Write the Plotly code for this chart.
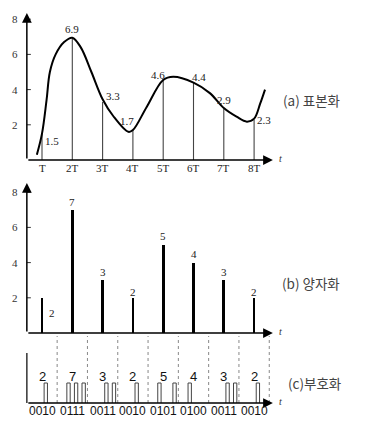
import plotly.graph_objects as go

# ---------------- data ----------------
sample_t = [1, 2, 3, 4, 5, 6, 7, 8]
sample_v = [1.5, 6.9, 3.3, 1.7, 4.6, 4.4, 2.9, 2.3]
curve_t = [0.83, 1.0, 1.15, 1.26, 1.45, 1.73, 2.0, 2.28, 2.63, 3.0, 3.35, 3.85, 4.0,
           4.45, 5.0, 5.33, 6.0, 6.54, 7.0, 7.42, 7.76, 8.0, 8.2, 8.36]
curve_v = [0.3, 1.5, 3.4, 5.0, 6.0, 6.7, 6.95, 6.4, 5.0, 3.45, 2.5, 1.6, 1.7,
           3.0, 4.55, 4.73, 4.4, 3.8, 2.95, 2.46, 2.18, 2.35, 3.2, 4.0]
quant_v = [2, 7, 3, 2, 5, 4, 3, 2]
codes = ["0010", "0111", "0011", "0010", "0101", "0100", "0011", "0010"]
x_ticks = [1, 2, 3, 4, 5, 6, 7, 8]
x_tick_labels = ["T", "2T", "3T", "4T", "5T", "6T", "7T", "8T"]
y_ticks = [2, 4, 6, 8]
panel_labels = ["(a) 표본화", "(b) 양자화", "(c)부호화"]

# ---------------- layout geometry (page pixels) ----------------
OFF = 8                      # page body margin
W, H = 375, 421              # figure size
X0PX, XUNIT = 11.7, 30.3     # page pixel of t=0, pixels per T


def xr():
    return [-(X0PX - OFF) / XUNIT, (W + OFF - X0PX) / XUNIT]


def yaxis_cfg(zero_px, unit, top_px, bot_px):
    top, bot = top_px - OFF, bot_px - OFF
    z = zero_px - OFF
    return dict(domain=[max(0.0, 1 - bot / H), min(1.0, 1 - top / H)],
                range=[(z - bot) / unit, (z - top) / unit],
                visible=False, anchor="x", fixedrange=True)


A0, AU = 160, 17.6
B0, BU = 333, 17.6
C0, CU = 403, 20.0

SERIF = "Liberation Serif"
SANS = "Liberation Sans"
KR = "Noto Sans CJK KR"
AX = "#333333"

fig = go.Figure()

# ----- panel (a): stems + curve -----
sx, sy = [], []
for t, v in zip(sample_t, sample_v):
    sx += [t, t, None]
    sy += [0, v, None]
fig.add_trace(go.Scatter(x=sx, y=sy, mode="lines", yaxis="y",
                         line=dict(color="#444444", width=1.1), hoverinfo="skip"))
fig.add_trace(go.Scatter(x=curve_t, y=curve_v, mode="lines", yaxis="y",
                         line=dict(color="black", width=2, shape="spline"),
                         hoverinfo="skip"))

# ----- panel (b): bars -----
fig.add_trace(go.Bar(x=sample_t, y=quant_v, yaxis="y2", width=0.09,
                     marker=dict(color="black", line=dict(width=0)),
                     hoverinfo="skip"))

# ----- panel (c): pulses -----
px_, py_ = [], []
bw = 0.25
pw = 0.11
for t, c in zip(sample_t, codes):
    for i, b in enumerate(c):
        if b == "1":
            xc = t - 0.5 + (i + 0.5) * bw
            px_ += [xc - pw / 2, xc - pw / 2, xc + pw / 2, xc + pw / 2, None]
            py_ += [0, 1, 1, 0, None]
fig.add_trace(go.Scatter(x=px_, y=py_, mode="lines", yaxis="y3",
                         line=dict(color="#444444", width=1), hoverinfo="skip"))

# dotted separators
dx, dy = [], []
for t in sample_t:
    dx += [t + 0.5, t + 0.5, None]
    dy += [0, (C0 - 336) / CU, None]
fig.add_trace(go.Scatter(x=dx, y=dy, mode="lines", yaxis="y3",
                         line=dict(color="#888888", width=1, dash="dot"),
                         hoverinfo="skip"))

# y tick marks for (a) and (b)
for ya in ["y", "y2"]:
    tx, ty = [], []
    for v in y_ticks:
        tx += [0.5, 0.5 + 4 / XUNIT, None]
        ty += [v, v, None]
    fig.add_trace(go.Scatter(x=tx, y=ty, mode="lines", yaxis=ya,
                             line=dict(color=AX, width=1), hoverinfo="skip"))

# panel (c) vertical axis line
fig.add_trace(go.Scatter(x=[0.5, 0.5], y=[0, (C0 - 353) / CU], mode="lines", yaxis="y3",
                         line=dict(color=AX, width=1.5), hoverinfo="skip"))

ann = []


def arrow(x0, y0, x1, y1, yref):
    ann.append(dict(x=x1, y=y1, ax=x0, ay=y0, xref="x", yref=yref, axref="x", ayref=yref,
                    text="", showarrow=True, arrowhead=2, arrowsize=1.3, arrowwidth=1.5,
                    arrowcolor="black", standoff=0, startstandoff=0))


arrow(0.5, 0, 8.62, 0, "y")
arrow(0.5, 0, 0.5, (A0 - 13) / AU, "y")
arrow(0.5, 0, 8.62, 0, "y2")
arrow(0.5, 0, 0.5, (B0 - 183) / BU, "y2")
arrow(0.5, 0, 8.62, 0, "y3")

# "t" axis labels
for yref in ["y", "y2", "y3"]:
    ann.append(dict(x=8.62, y=0, xref="x", yref=yref, text="<i>t</i>", showarrow=False,
                    xshift=8, yshift=2, font=dict(family=SERIF, size=10, color="#333")))

# y tick labels
for yref in ["y", "y2"]:
    for v in y_ticks:
        ann.append(dict(x=0.5, y=v, xref="x", yref=yref, text=str(v), showarrow=False,
                        xshift=-12, font=dict(family=SERIF, size=11, color="#333")))

# x tick labels (a)
for t, lab in zip(x_ticks, x_tick_labels):
    ann.append(dict(x=t, y=0, xref="x", yref="y", text=lab, showarrow=False,
                    yshift=-8, font=dict(family=SERIF, size=11, color="#222")))

# sample value labels (a)
a_off = [(10, -7), (0, 10), (10.5, 6), (-6, 9), (-5, 4), (5, 6), (0, 9), (10, 0)]
for t, v, (ox, oy) in zip(sample_t, sample_v, a_off):
    ann.append(dict(x=t, y=v, xref="x", yref="y", text=f"{v:.1f}", showarrow=False,
                    xshift=ox, yshift=oy, font=dict(family=SERIF, size=11, color="#222")))

# quantized labels (b)
b_off = [(10, -15), (0, 8), (0, 8), (0, 6), (0, 9), (0, 9), (0, 8), (0, 6)]
for t, v, (ox, oy) in zip(sample_t, quant_v, b_off):
    ann.append(dict(x=t, y=v, xref="x", yref="y2", text=str(v), showarrow=False,
                    xshift=ox, yshift=oy, font=dict(family=SERIF, size=11, color="#222")))

# coded labels (c)
for t, v, c in zip(sample_t, quant_v, codes):
    ann.append(dict(x=t, y=(C0 - 376) / CU, xref="x", yref="y3", text=str(v),
                    showarrow=False, font=dict(family=SANS, size=13, color="#111")))
    ann.append(dict(x=t, y=(C0 - 411) / CU, xref="x", yref="y3", text=c,
                    showarrow=False, font=dict(family=SANS, size=12, color="#111")))

# panel titles
for lab, (cx, cy) in zip(panel_labels, [(311, 100), (311, 283), (314, 383)]):
    ann.append(dict(x=(cx - OFF) / W, y=1 - (cy - OFF) / H, xref="paper", yref="paper",
                    text=lab, showarrow=False, xanchor="center", yanchor="middle",
                    font=dict(family=KR, size=13.5, color="#444")))

fig.update_layout(
    width=W, height=H, margin=dict(l=0, r=0, t=0, b=0),
    paper_bgcolor="white", plot_bgcolor="rgba(0,0,0,0)", showlegend=False,
    xaxis=dict(range=xr(), visible=False, domain=[0, 1], fixedrange=True),
    yaxis=yaxis_cfg(A0, AU, 8, 176),
    yaxis2=yaxis_cfg(B0, BU, 178, 340),
    yaxis3=yaxis_cfg(C0, CU, 330, 429),
    annotations=ann, bargap=0,
)

fig.write_html("out.html")
